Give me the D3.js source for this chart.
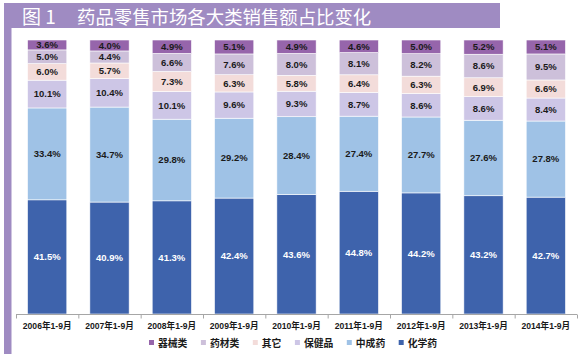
<!DOCTYPE html>
<html><head><meta charset="utf-8">
<script src="https://cdn.jsdelivr.net/npm/d3@7"></script>
<style>
html,body{margin:0;padding:0;background:#fff;}
svg{display:block;}
</style></head>
<body>
<svg id="chart" width="581" height="364"></svg>
<script>
const categories = ["2006年1-9月","2007年1-9月","2008年1-9月","2009年1-9月","2010年1-9月","2011年1-9月","2012年1-9月","2013年1-9月","2014年1-9月"];
// stacked bottom -> top
const seriesNames = ["化学药","中成药","保健品","其它","药材类","器械类"];
const chem    = [41.5, 40.9, 41.3, 42.4, 43.6, 44.8, 44.2, 43.2, 42.7];
const tcm     = [33.4, 34.7, 29.8, 29.2, 28.4, 27.4, 27.7, 27.6, 27.8];
const health  = [10.1, 10.4, 10.1, 9.6, 9.3, 8.7, 8.6, 8.6, 8.4];
const other   = [6.0, 5.7, 7.3, 6.3, 5.8, 6.4, 6.3, 6.9, 6.6];
const herbs   = [5.0, 4.4, 6.6, 7.6, 8.0, 8.1, 8.2, 8.6, 9.5];
const devices = [3.6, 4.0, 4.9, 5.1, 4.9, 4.6, 5.0, 5.2, 5.1];
const legendOrder = ["器械类","药材类","其它","保健品","中成药","化学药"];
const colors = {"化学药":"#3e63ac","中成药":"#9fc2e6","保健品":"#cdc6e6","其它":"#f3dcda","药材类":"#cdc0da","器械类":"#9665ab"};

const valuesBySeries = {"化学药":chem,"中成药":tcm,"保健品":health,"其它":other,"药材类":herbs,"器械类":devices};
const table = categories.map((c,i)=>{
  const row = {cat:c};
  seriesNames.forEach(s=>row[s]=valuesBySeries[s][i]);
  return row;
});

const svg = d3.select("#chart");
const purple = "#9f8bc2";
// title bar and left bar
svg.append("rect").attr("x",4).attr("y",3).attr("width",496).attr("height",25).attr("fill",purple);
svg.append("rect").attr("x",4).attr("y",3).attr("width",7.5).attr("height",351).attr("fill",purple);
svg.append("text").attr("x",22).attr("y",24).attr("fill","#fff")
  .style("font-family","'Noto Sans CJK SC'").style("font-size","19px").text("图 1");
svg.append("text").attr("x",77).attr("y",24).attr("fill","#fff")
  .style("font-family","'Noto Sans CJK SC'").style("font-size","18.4px").text("药品零售市场各大类销售额占比变化");

const x = d3.scaleBand().domain(categories).range([16,577]).paddingInner(0.37).paddingOuter(0.185);
const y = d3.scaleLinear().domain([0,1]).range([314,40]);

const stack = d3.stack().keys(seriesNames).offset(d3.stackOffsetExpand);
const layers = stack(table);

const g = svg.append("g");
layers.forEach(layer=>{
  const name = layer.key;
  const lg = g.append("g");
  lg.selectAll("rect").data(layer).join("rect")
    .attr("x",d=>x(d.data.cat))
    .attr("width",x.bandwidth())
    .attr("y",d=>y(d[1]))
    .attr("height",d=>y(d[0])-y(d[1]))
    .attr("fill",colors[name])
    .attr("stroke","#fff").attr("stroke-width",0.6);
  lg.selectAll("text").data(layer).join("text")
    .attr("x",d=>x(d.data.cat)+x.bandwidth()/2)
    .attr("y",d=>(y(d[0])+y(d[1]))/2)
    .attr("dy","0.35em")
    .attr("text-anchor","middle")
    .attr("fill", name==="化学药" ? "#fff" : "#1a1a1a")
    .style("font-family","'Liberation Sans', Arial, sans-serif")
    .style("font-weight","bold").style("font-size","9.5px")
    .text(d=>d.data[name].toFixed(1)+"%");
});

// axis
const step = x.step();
const ax = svg.append("g");
ax.append("line").attr("x1",16).attr("x2",577).attr("y1",314.5).attr("y2",314.5).attr("stroke","#a6a6a6");
ax.selectAll("line.t").data(d3.range(categories.length+1)).join("line").attr("class","t")
  .attr("x1",i=>16+i*step+0.5).attr("x2",i=>16+i*step+0.5)
  .attr("y1",314.5).attr("y2",318.5).attr("stroke","#a6a6a6");
ax.selectAll("text").data(categories).join("text")
  .attr("x",d=>x(d)+x.bandwidth()/2)
  .attr("y",329)
  .attr("text-anchor","middle")
  .attr("fill","#1a1a1a")
  .style("font-family","'Liberation Sans', 'Noto Sans CJK SC', sans-serif")
  .style("font-weight","bold").style("font-size","8.6px")
  .text(d=>d);

// legend
let cx = 149;
const lgd = svg.append("g");
legendOrder.forEach(name=>{
  lgd.append("rect").attr("x",cx).attr("y",340).attr("width",5).attr("height",5).attr("fill",colors[name]);
  const t = lgd.append("text").attr("x",cx+9).attr("y",347)
    .attr("fill","#1a1a1a")
    .style("font-family","'Noto Sans CJK SC', sans-serif")
    .style("font-weight","bold").style("font-size","9.8px").text(name);
  cx += 9 + name.length*9.8 + 13.5;
});
</script>
</body></html>
